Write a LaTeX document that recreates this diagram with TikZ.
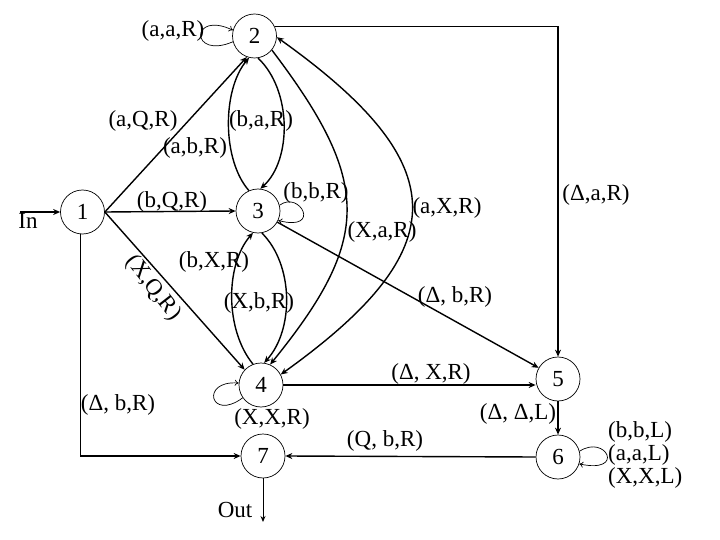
\documentclass[tikz,border=0pt]{standalone}
\usepackage{fontspec}
\setmainfont{Liberation Serif}
\usetikzlibrary{arrows.meta}
\begin{document}
\begin{tikzpicture}[x=1pt,y=-1pt,
  font=\fontsize{23}{24}\selectfont,
  state/.style={circle,draw,line width=0.7pt,minimum size=44pt,inner sep=0pt,fill=white},
  edge/.style={line width=1.4pt,-{Stealth[length=7pt,width=6pt]}},
  loopedge/.style={line width=0.7pt,-{To[length=4pt,width=6pt]}},
  lbl/.style={inner sep=0pt}]
\useasboundingbox (0,0) rectangle (720,540);

% edges drawn first, nodes on top
\node[state] (n1) at (82.5,212) {1};
\node[state] (n2) at (254.5,36) {2};
\node[state] (n3) at (258,211) {3};
\node[state] (n4) at (261,385) {4};
\node[state] (n5) at (558,379) {5};
\node[state] (n6) at (558,457) {6};
\node[state] (n7) at (263,456) {7};
\coordinate (inS) at (20,212);
\coordinate (outE) at (263,522);

\draw[edge] (inS) -- (n1.west);
\node[lbl] (lin) at (28,221) {In};

\draw[edge] (n1.east) -- (n2.-110);
\draw[edge] (n1.east) -- (n3.west);
\draw[edge] (n1.east) -- (n4.137);
\draw[edge] (n1.-95) |- (n7.west);
\draw[edge] (n2.25) -| (n5.north);
\draw[edge] (n3.-30) -- (n5.150);
\draw[edge] (n4.east) -- (n4.east -| n5.west);
\draw[edge] (n5.south) -- (n6.north);
\draw[edge] (n6.west) -- (n7.east);
\draw[line width=0.9pt,-{Stealth[length=6pt,width=5pt]}] (n7.south) -- (outE);

% 2 <-> 3
\draw[edge] (n3.114) .. controls (222,160) and (222,90) .. (n2.-104);
\draw[edge] (n2.-81) .. controls (292,90) and (292,160) .. (n3.84);
% 3 <-> 4
\draw[edge] (n4.111) .. controls (225,330) and (225,265) .. (n3.-103);
\draw[edge] (n3.-80) .. controls (294,265) and (294,330) .. (n4.82);
% 2 -> 4
\draw[edge] (n2.-39) .. controls (372,182) and (372,239) .. (n4.66);
% 4 <-> 2 outer
\draw[edge,{Stealth[length=7pt,width=6pt]}-{Stealth[length=7pt,width=6pt]}] (n4.28) .. controls (456,249) and (456,165) .. (n2.-3);

% loops
\draw[loopedge] (n2.195) .. controls (190,60) and (190,10) .. (n2.165);
\draw[loopedge] (n3.15) .. controls (300,190) and (322,232) .. (n3.-25);
\draw[loopedge] (n4.215) .. controls (210,422) and (200,380) .. (n4.175);
\draw[loopedge] (n6.15) .. controls (606,434) and (626,474) .. (n6.-18);

% labels
\node[lbl] (l1) at (173,31) {(a,a,R)};
\node[lbl] (l2) at (143,121) {(a,Q,R)};
\node[lbl] (l3) at (195,148) {(a,b,R)};
\node[lbl] (l4) at (261,121) {(b,a,R)};
\node[lbl] (l5) at (172,202) {(b,Q,R)};
\node[lbl] (l6) at (316,193) {(b,b,R)};
\node[lbl] (l7) at (447,208) {(a,X,R)};
\node[lbl] (l8) at (382,232) {(X,a,R)};
\node[lbl] (l9) at (596,195) {(Δ,a,R)};
\node[lbl] (l10) at (214,262) {(b,X,R)};
\node[lbl] (l11) at (259,303) {(X,b,R)};
\node[lbl,rotate=-52] (l12) at (153,288) {(X,Q,R)};
\node[lbl] (l13) at (455,297) {(Δ, b,R)};
\node[lbl] (l14) at (118,405) {(Δ, b,R)};
\node[lbl] (l15) at (431,374) {(Δ, X,R)};
\node[lbl] (l16) at (518,414) {(Δ, Δ,L)};
\node[lbl] (l17) at (272,419) {(X,X,R)};
\node[lbl] (l18) at (385,441) {(Q, b,R)};
\node[lbl,align=left,anchor=west,font=\fontsize{23}{23}\selectfont] (l19) at (608,455) {(b,b,L)\\(a,a,L)\\(X,X,L)};
\node[lbl] (lout) at (235,510) {Out};
\end{tikzpicture}
\end{document}
